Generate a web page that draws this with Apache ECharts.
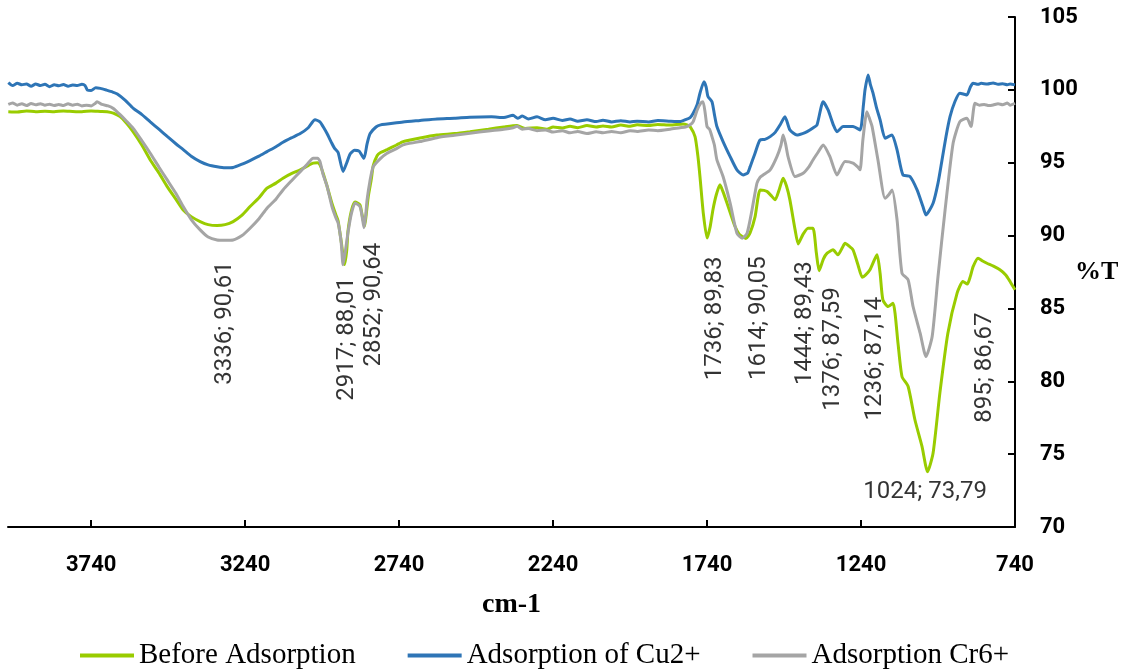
<!DOCTYPE html>
<html><head><meta charset="utf-8">
<script src="https://cdn.jsdelivr.net/npm/echarts@6/dist/echarts.min.js"></script>
<style>html,body{margin:0;padding:0;background:#fff}#c{width:1122px;height:671px}</style>
</head><body><div id="c"></div>
<script>
// ---------- DATA ----------
const seriesNames = ['Before Adsorption', 'Adsorption of Cu2+', 'Adsorption Cr6+'];
const xTicks = [740, 1240, 1740, 2240, 2740, 3240, 3740];
const yTicks = [70, 75, 80, 85, 90, 95, 100, 105];

const beforeAdsorption = [[4009,98.5],[3980,98.48],[3950,98.55],[3920,98.5],[3890,98.53],[3860,98.5],[3830,98.55],[3800,98.52],[3770,98.5],[3740,98.55],[3710,98.52],[3688,98.5],[3668,98.4],[3646,98.16],[3625,97.7],[3604,97.13],[3575,96.2],[3548,95.19],[3520,94.3],[3493,93.36],[3465,92.5],[3441,91.76],[3415,91.3],[3386,90.96],[3360,90.75],[3331,90.69],[3305,90.75],[3279,90.96],[3250,91.4],[3224,91.99],[3195,92.6],[3169,93.25],[3140,93.6],[3117,93.94],[3090,94.25],[3061,94.51],[3040,94.75],[3019,94.97],[3005,95.0],[2997,94.85],[2987,94.3],[2974,93.4],[2958,92.2],[2945,91.4],[2938,91.0],[2928,89.6],[2917,88.01],[2910,89.0],[2906,90.3],[2895,91.7],[2883,92.3],[2867,92.1],[2860,91.4],[2852,90.64],[2846,91.6],[2840,92.7],[2830,93.9],[2824,94.8],[2811,95.5],[2800,95.7],[2779,95.9],[2750,96.2],[2727,96.45],[2672,96.7],[2617,96.9],[2560,97.0],[2510,97.13],[2450,97.3],[2400,97.45],[2357,97.55],[2330,97.35],[2292,97.4],[2260,97.3],[2240,97.45],[2210,97.38],[2185,97.5],[2160,97.4],[2130,97.55],[2100,97.45],[2078,97.52],[2050,97.45],[2020,97.58],[1990,97.5],[1967,97.6],[1930,97.55],[1900,97.62],[1860,97.58],[1818,97.66],[1805,97.6],[1795,97.48],[1779,96.79],[1770,95.5],[1763,94.05],[1752,91.5],[1740,89.83],[1730,90.6],[1721,91.76],[1710,92.8],[1698,93.48],[1688,93.0],[1675,92.22],[1662,91.4],[1649,90.62],[1636,90.1],[1626,89.93],[1614,89.8],[1600,90.2],[1584,91.3],[1568,93.13],[1555,93.1],[1545,93.02],[1530,92.7],[1519,92.45],[1505,93.2],[1493,93.94],[1482,93.4],[1471,92.45],[1454,90.39],[1444,89.43],[1428,90.1],[1412,90.5],[1396,90.5],[1385,88.8],[1376,87.59],[1362,88.4],[1350,88.79],[1331,89.02],[1315,88.68],[1300,89.2],[1292,89.48],[1280,89.3],[1266,89.02],[1250,88.0],[1236,87.14],[1225,87.3],[1211,87.65],[1188,88.68],[1178,87.4],[1169,85.59],[1152,85.13],[1136,85.36],[1120,82.62],[1107,80.33],[1087,79.64],[1065,77.36],[1042,75.53],[1024,73.79],[1006,75.08],[984,79.19],[958,83.3],[928,86.05],[909,86.85],[895,86.67],[885,87.2],[876,87.87],[860,88.45],[845,88.25],[831,88.1],[810,87.9],[789,87.65],[770,87.3],[756,86.85],[740,86.28]];

const adsorptionCu = [[4009,100.5],[3995,100.3],[3980,100.45],[3965,100.35],[3950,100.4],[3935,100.25],[3920,100.4],[3905,100.3],[3890,100.38],[3875,100.22],[3860,100.35],[3845,100.28],[3830,100.36],[3815,100.25],[3800,100.34],[3785,100.3],[3770,100.38],[3760,100.3],[3752,99.98],[3740,99.95],[3725,100.15],[3710,100.1],[3690,99.98],[3670,99.85],[3655,99.72],[3630,99.3],[3604,98.75],[3575,98.3],[3548,97.8],[3520,97.3],[3493,96.8],[3465,96.3],[3441,95.9],[3415,95.45],[3386,95.08],[3360,94.85],[3331,94.72],[3305,94.65],[3279,94.67],[3250,94.9],[3224,95.15],[3195,95.45],[3169,95.76],[3140,96.1],[3117,96.4],[3090,96.7],[3061,97.0],[3035,97.4],[3013,97.94],[2997,97.8],[2987,97.48],[2974,97.0],[2960,96.4],[2950,96.0],[2938,95.7],[2922,94.4],[2910,95.0],[2899,95.6],[2885,95.85],[2870,95.8],[2854,95.3],[2844,96.3],[2834,97.0],[2815,97.45],[2800,97.6],[2779,97.65],[2727,97.8],[2672,97.9],[2617,98.0],[2560,98.05],[2510,98.12],[2440,98.15],[2400,98.1],[2370,98.25],[2355,98.05],[2340,98.2],[2320,98.0],[2292,98.15],[2265,97.95],[2240,98.05],[2210,97.9],[2185,98.0],[2160,97.85],[2130,97.95],[2100,97.82],[2078,97.92],[2050,97.8],[2020,97.88],[1990,97.8],[1967,97.85],[1930,97.8],[1900,97.9],[1860,97.85],[1828,97.82],[1810,97.95],[1795,98.1],[1785,98.4],[1772,99.0],[1763,99.77],[1750,100.56],[1743,100.2],[1737,99.54],[1724,99.19],[1716,98.3],[1708,97.48],[1688,96.45],[1665,95.42],[1643,94.51],[1623,94.16],[1608,94.3],[1600,94.73],[1585,95.6],[1568,96.56],[1552,96.6],[1535,96.79],[1518,97.1],[1503,97.59],[1487,98.16],[1471,97.25],[1448,96.9],[1430,97.0],[1415,97.13],[1395,97.4],[1383,97.59],[1363,99.19],[1347,98.62],[1330,97.6],[1318,97.13],[1298,97.48],[1266,97.48],[1243,97.25],[1232,99.0],[1227,100.0],[1217,101.02],[1210,100.4],[1201,99.77],[1190,98.8],[1178,97.94],[1162,96.68],[1150,96.8],[1139,96.9],[1123,95.88],[1104,94.16],[1081,94.05],[1058,93.13],[1039,91.99],[1029,91.42],[1006,92.22],[990,93.6],[977,95.19],[964,96.8],[951,98.16],[935,99.2],[919,99.77],[905,99.7],[896,99.65],[885,100.2],[876,100.45],[860,100.38],[850,100.45],[830,100.4],[811,100.47],[795,100.38],[780,100.42],[765,100.35],[756,100.4],[740,100.34]];

const adsorptionCr = [[4009,99.0],[3995,99.1],[3980,98.95],[3965,99.05],[3950,98.92],[3935,99.06],[3920,98.97],[3905,99.05],[3890,98.95],[3875,99.02],[3860,98.93],[3845,99.0],[3830,98.92],[3815,99.04],[3800,98.95],[3785,99.02],[3770,98.9],[3755,98.95],[3740,98.9],[3728,99.05],[3721,99.19],[3705,99.0],[3685,98.9],[3669,98.74],[3646,98.3],[3625,97.85],[3604,97.37],[3575,96.5],[3548,95.65],[3520,94.7],[3493,93.82],[3465,92.9],[3441,91.99],[3415,91.1],[3386,90.39],[3360,89.9],[3331,89.7],[3305,89.68],[3279,89.7],[3250,90.0],[3224,90.5],[3195,91.15],[3169,91.88],[3140,92.5],[3117,93.13],[3090,93.75],[3061,94.39],[3040,94.85],[3019,95.31],[3005,95.3],[2997,95.08],[2987,94.2],[2974,93.4],[2958,91.99],[2945,91.2],[2938,90.87],[2928,89.5],[2922,88.0],[2914,89.0],[2906,90.2],[2895,91.5],[2883,92.24],[2867,91.99],[2860,91.3],[2854,90.53],[2848,91.5],[2844,92.45],[2835,93.7],[2824,94.73],[2800,95.3],[2779,95.65],[2750,95.95],[2727,96.22],[2700,96.35],[2672,96.45],[2617,96.72],[2560,96.88],[2510,97.02],[2450,97.18],[2400,97.3],[2370,97.4],[2357,97.5],[2340,97.3],[2320,97.35],[2292,97.2],[2265,97.25],[2240,97.1],[2210,97.2],[2185,97.05],[2160,97.15],[2130,97.0],[2100,97.12],[2078,97.05],[2050,97.15],[2020,97.05],[1990,97.2],[1967,97.15],[1930,97.25],[1900,97.2],[1860,97.3],[1828,97.4],[1810,97.45],[1795,97.6],[1785,97.82],[1772,98.62],[1760,99.1],[1753,99.19],[1746,98.4],[1740,97.48],[1732,97.3],[1724,96.79],[1716,96.2],[1708,95.19],[1688,94.05],[1665,92.22],[1643,90.16],[1626,89.82],[1610,90.16],[1594,91.76],[1578,93.59],[1568,94.0],[1558,94.16],[1535,94.51],[1513,95.42],[1500,96.2],[1493,96.9],[1485,96.3],[1477,95.42],[1454,94.05],[1428,94.28],[1410,94.7],[1396,95.19],[1380,95.7],[1363,96.22],[1341,95.42],[1318,94.16],[1292,95.08],[1266,94.97],[1250,94.7],[1243,94.51],[1234,96.56],[1221,98.5],[1212,98.0],[1204,97.48],[1185,95.19],[1162,92.56],[1150,92.8],[1139,93.13],[1123,91.08],[1107,87.42],[1087,86.96],[1071,85.13],[1048,83.3],[1029,81.7],[1009,83.07],[990,87.19],[967,91.76],[941,96.33],[919,97.82],[896,98.05],[883,97.48],[870,99.08],[855,98.95],[840,99.0],[825,98.92],[811,98.96],[795,99.05],[780,98.98],[765,99.1],[756,98.95],[740,99.08]];

const peakWavenumbers = [3336, 2917, 2852, 1736, 1614, 1444, 1376, 1236, 895, 1024];
const peakValues = [90.61, 88.01, 90.64, 89.83, 90.05, 89.43, 87.59, 87.14, 86.67, 73.79];

// ---------- STYLE (label placement, not data) ----------
const labelOffsets = [[10,35],[3,13],[10,17],[7,19],[14,22],[7,18],[14,17],[13,20],[18,29],[-2,21]];
const labelRotated = [true,true,true,true,true,true,true,true,true,false];
const colors = ['#99CC00', '#2E75B6', '#A5A5A5'];

const fmt = (x, y) => x + '; ' + y.toFixed(2).replace('.', ',');

const peakData = peakWavenumbers.map((x, i) => {
  const y = peakValues[i];
  const off = labelOffsets[i];
  return {
    value: [x, y],
    label: labelRotated[i]
      ? { position: off, rotate: 90, align: 'right', verticalAlign: 'middle' }
      : { position: off, rotate: 0, align: 'center', verticalAlign: 'middle' }
  };
});

const lineSeries = [beforeAdsorption, adsorptionCu, adsorptionCr].map((d, i) => ({
  name: seriesNames[i],
  type: 'line',
  data: d,
  showSymbol: false,
  symbol: 'none',
  smooth: 0.2,
  lineStyle: { width: 3, color: colors[i] },
  itemStyle: { color: colors[i] },
  z: 2 + i
}));

const chart = echarts.init(document.getElementById('c'), null, { renderer: 'canvas' });
chart.setOption({
  animation: false,
  backgroundColor: '#ffffff',
  grid: { left: 8, right: 107, top: 17, bottom: 144, containLabel: false, outerBoundsMode: 'none' },
  legend: {
    data: seriesNames,
    left: 80, top: 641,
    padding: 0,
    icon: 'rect',
    itemWidth: 54, itemHeight: 4,
    itemGap: 52,
    textStyle: { fontFamily: 'Liberation Serif', fontSize: 29, color: '#000', padding: [0,0,0,0] }
  },
  xAxis: {
    type: 'value',
    inverse: true,
    min: 740, max: 4010,
    interval: 500,
    name: 'cm-1',
    nameLocation: 'middle',
    nameGap: 64,
    nameMoveOverlap: false,
    nameTextStyle: { fontFamily: 'Liberation Serif', fontWeight: 'bold', fontSize: 28, color: '#000' },
    axisLine: { show: true, onZero: false, lineStyle: { color: '#000', width: 2 } },
    axisTick: { show: true, inside: true, length: 7, lineStyle: { color: '#000', width: 2 }, customValues: xTicks },
    axisLabel: { customValues: xTicks, margin: 27, fontFamily: 'Roboto', fontWeight: 'bold', fontSize: 22, color: '#000',
      formatter: v => (xTicks.indexOf(v) >= 0 ? String(v) : '') },
    splitLine: { show: false }
  },
  yAxis: {
    type: 'value',
    position: 'right',
    min: yTicks[0], max: yTicks[yTicks.length - 1], interval: 5,
    name: '%T',
    nameLocation: 'middle',
    nameRotate: 0,
    nameGap: 60,
    nameMoveOverlap: false,
    nameTextStyle: { fontFamily: 'Liberation Serif', fontWeight: 'bold', fontSize: 26, color: '#000', align: 'left', verticalAlign: 'middle' },
    axisLine: { show: true, lineStyle: { color: '#000', width: 2 } },
    axisTick: { show: true, inside: true, length: 7, lineStyle: { color: '#000', width: 2 } },
    axisLabel: { margin: 25, fontFamily: 'Roboto', fontWeight: 'bold', fontSize: 22, color: '#000' },
    splitLine: { show: false }
  },
  series: lineSeries.concat([{
    name: 'peaks',
    type: 'scatter',
    data: peakData,
    symbolSize: 1,
    itemStyle: { color: 'rgba(0,0,0,0)' },
    z: 10,
    label: {
      show: true,
      formatter: p => fmt(p.value[0], p.value[1]),
      fontFamily: 'Roboto', fontSize: 24, color: '#000'
    },
    tooltip: { show: false }
  }])
});
</script></body></html>
